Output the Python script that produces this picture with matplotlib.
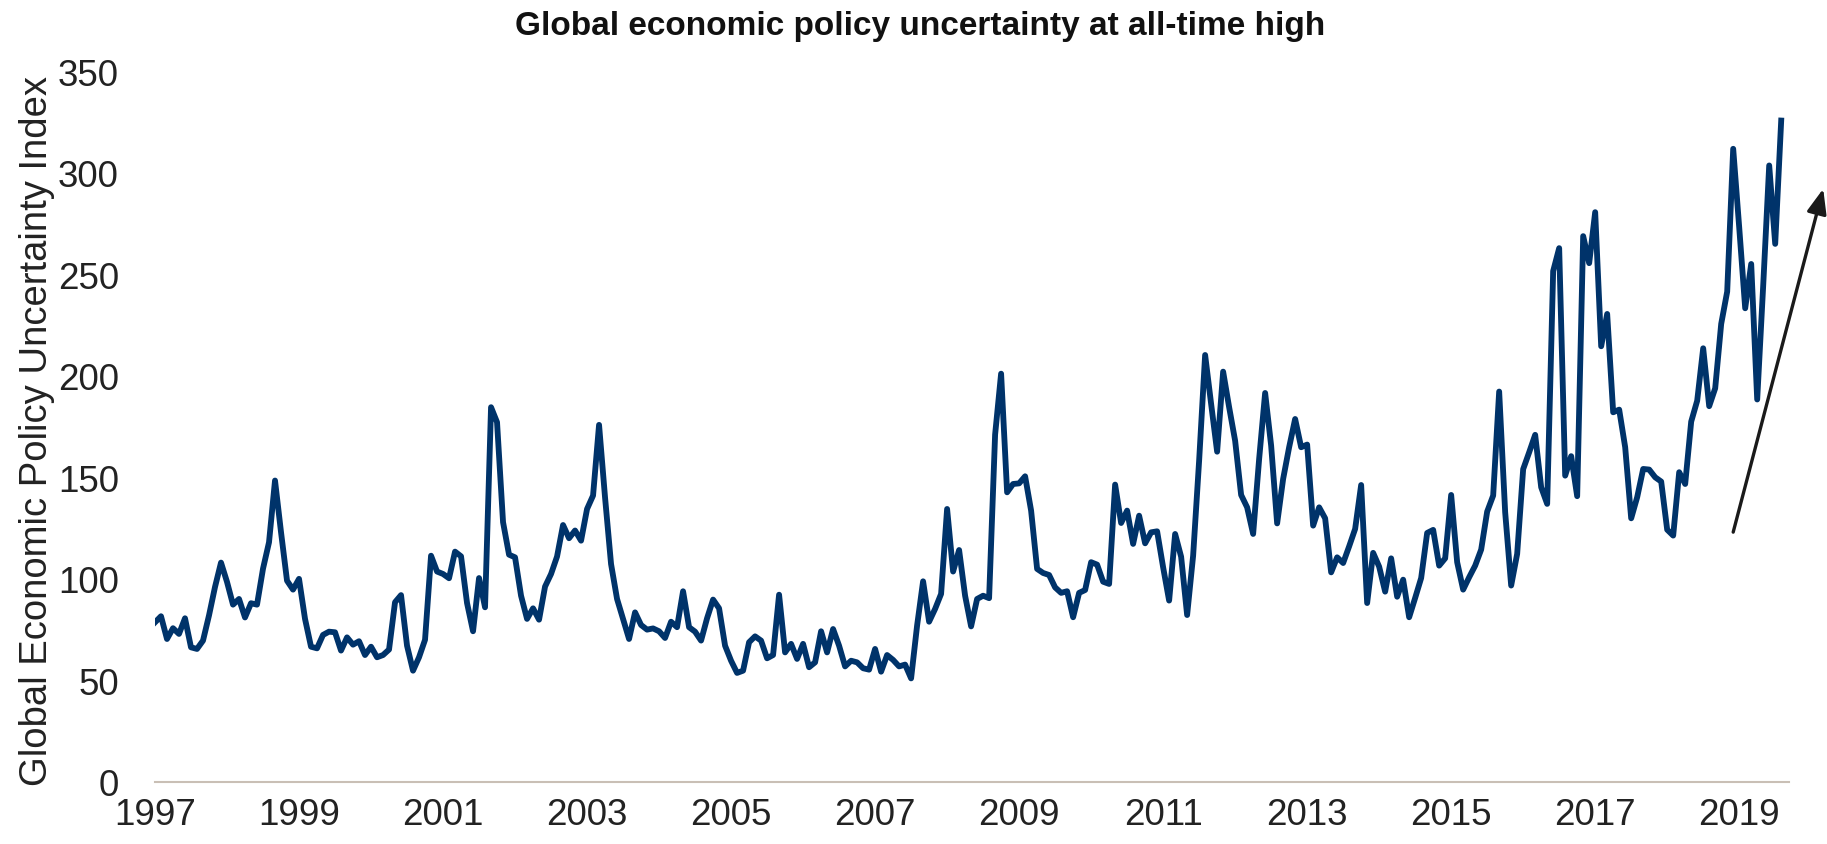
import numpy as np
import matplotlib.pyplot as plt

# Global EPU index, monthly, Jan 1997 - Aug 2019
epu = [78.6, 81.6, 70.4, 75.7, 72.9, 80.6, 66.3, 65.5, 69.6, 82, 96, 108,
       98.5, 87.3, 90.1, 81, 88, 87.3, 105, 118, 148.4, 123, 99.1, 94.7,
       100, 80.3, 66.6, 65.8, 72.4, 74, 73.7, 64.7, 71.2, 67.6, 69.3, 62.5,
       66.6, 61.4, 62.5, 65.2, 88.5, 92, 67.1, 54.8, 61.4, 70, 111.4, 103.6,
       102.4, 100.3, 113.4, 111.1, 88.1, 74.2, 100.4, 86, 184.5, 177.1, 127.9, 111.9,
       110.6, 91.7, 80.3, 85.5, 79.9, 96.2, 102.4, 111, 126.5, 120, 123.8, 118.8,
       134.4, 141, 175.8, 140, 107.3, 90.1, 80.3, 70.4, 83.5, 77.3, 75, 75.6,
       74.2, 70.9, 78.9, 76.2, 93.9, 76.2, 74, 69.6, 80.6, 89.8, 85.5, 67.1,
       59.7, 53.7, 54.8, 68.8, 71.7, 69.6, 60.9, 62.5, 92.2, 63.8, 68, 60.6,
       68, 56.5, 58.9, 74.2, 63.8, 75.3, 67.1, 56.9, 59.7, 58.9, 56, 55.3,
       65.5, 54.3, 62.5, 60.1, 56.9, 57.8, 51, 77, 98.8, 78.9, 85.2, 92.6,
       134.4, 103.6, 114.2, 91.7, 76.6, 90.1, 91.7, 90.5, 171, 201, 142.6, 146.7,
       147, 150.5, 133.6, 104.9, 102.9, 101.9, 95.8, 93.1, 93.9, 81.1, 93.1, 94.5,
       108.2, 107, 98.6, 97.5, 146.4, 127.5, 133.6, 117.2, 131.1, 117.5, 122.9, 123.4,
       105.7, 89.3, 122.1, 110.9, 82.2, 111.4, 158.2, 210.2, 186.1, 162.6, 202, 184.5,
       168, 141.3, 135.2, 122.1, 159, 191.5, 165.6, 127.3, 149.2, 164.8, 178.7, 164.8,
       166.1, 126.2, 135.2, 129.8, 103.2, 110.6, 107.8, 116, 124.6, 146.2, 88.1, 112.8,
       106, 93.7, 110.1, 91.2, 99.6, 81.1, 90.6, 100.4, 122.6, 124.1, 106.5, 110.1,
       141.3, 108.2, 94.7, 100.8, 106.5, 114.4, 133.1, 141, 192.2, 132.8, 96.7, 112.3,
       154, 162.3, 170.9, 145.1, 136.9, 251.5, 262.8, 150.8, 160.4, 140.7, 268.7, 255.4,
       280.5, 214.5, 230.4, 182, 183.3, 164.8, 129.8, 140.2, 154.1, 153.8, 150, 147.9,
       124.2, 121.3, 152.5, 146.7, 177.4, 187.7, 213.5, 185, 193.8, 225.5, 241.4, 311.7,
       273.1, 233.2, 255, 188.3, 244.4, 303.5, 264.9, 325.6]

years = list(range(1997, 2020, 2))
yticks = [0, 50, 100, 150, 200, 250, 300, 350]

plt.rcParams['font.family'] = ['Liberation Sans', 'DejaVu Sans']

months = np.arange(len(epu))

fig = plt.figure(figsize=(18.27, 8.45), dpi=100)
ax = fig.add_axes([155 / 1827, 1 - 783 / 845, (1789 - 155) / 1827, (783 - 72) / 845])

ax.plot(months, epu, color='#00336A', linewidth=4.2, solid_joinstyle='round')

ax.set_xlim(0, 272.3)
ax.set_ylim(0, 350)
ax.set_xticks([(y - 1997) * 12 for y in years])
ax.set_xticklabels([str(y) for y in years])
ax.set_yticks(yticks)
ax.tick_params(axis='both', length=0, labelsize=26.5, colors='#222222')
ax.tick_params(axis='y', pad=26)
ax.tick_params(axis='x', pad=11)

for s in ['top', 'right', 'left']:
    ax.spines[s].set_visible(False)
ax.spines['bottom'].set_color('#C9BFB5')
ax.spines['bottom'].set_linewidth(1.5)

# trend arrow
ax.annotate('', xy=(278, 292), xytext=(263, 123),
            arrowprops=dict(arrowstyle='-|>,head_length=1.5,head_width=0.6',
                            color='#1a1a1a', lw=2.4, shrinkA=0, shrinkB=0),
            annotation_clip=False)

fig.text(920 / 1827, 1 - 26 / 845, 'Global economic policy uncertainty at all-time high',
         ha='center', va='center', fontsize=24, fontweight='bold', color='#111111')
fig.text(37 / 1827, 1 - 431 / 845, 'Global Economic Policy Uncertainty Index',
         ha='center', va='center', rotation=90, fontsize=27.5, color='#222222')

fig.savefig('out.png', dpi=100)
